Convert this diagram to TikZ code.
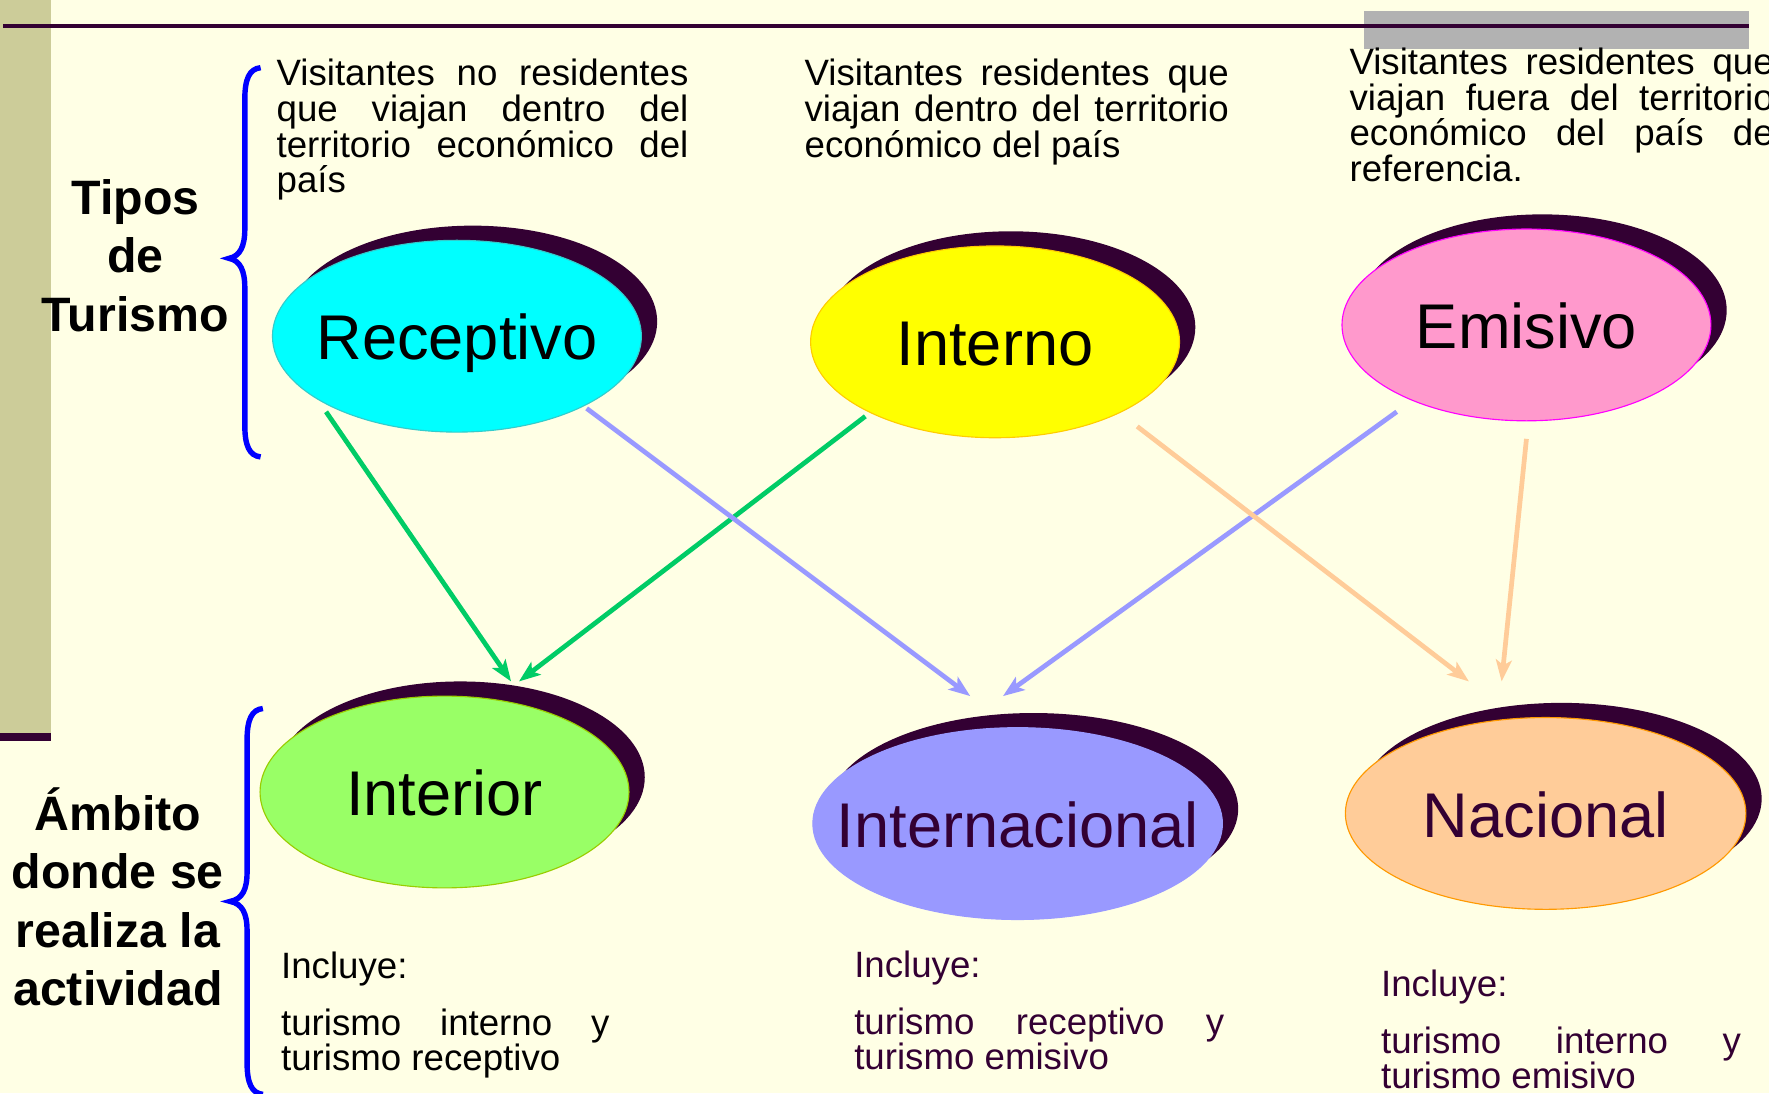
\documentclass[tikz,border=0pt]{standalone}
\usepackage{fontspec}
\setmainfont{Liberation Sans}
\usetikzlibrary{shapes.geometric,arrows.meta,shadows}
\definecolor{bgc}{RGB}{255,255,229}
\definecolor{khaki}{RGB}{204,204,153}
\definecolor{dpur}{RGB}{51,0,51}
\definecolor{greyc}{RGB}{178,178,178}
\definecolor{cyanF}{RGB}{0,255,255}
\definecolor{cyanB}{RGB}{51,204,204}
\definecolor{yelF}{RGB}{255,255,0}
\definecolor{yelB}{RGB}{255,204,0}
\definecolor{pinkF}{RGB}{255,153,204}
\definecolor{pinkB}{RGB}{255,0,255}
\definecolor{grnF}{RGB}{153,255,102}
\definecolor{grnB}{RGB}{153,204,0}
\definecolor{bluF}{RGB}{153,153,255}
\definecolor{pchF}{RGB}{255,204,153}
\definecolor{pchB}{RGB}{255,153,0}
\definecolor{arrG}{RGB}{0,204,102}
\definecolor{braceB}{RGB}{0,0,255}
\newcommand\ovtxt[1]{\makebox[0pt]{\smash{\raisebox{-21pt}{#1}}}}
\newcommand\jline[2]{\makebox[#1][s]{#2}}
\newcommand\tightls{\lineskiplimit=-1000pt\relax}
\begin{document}
\begin{tikzpicture}[x=1pt,y=-1pt,
  oval/.style={ellipse, inner sep=0pt, line width=1pt, minimum width=327pt, minimum height=170pt,
    font=\fontsize{56}{60}\selectfont,
    drop shadow={shadow xshift=14pt,shadow yshift=13pt,fill=dpur,opacity=1}},
  arr/.style={line width=4.2pt, -{Stealth[length=19pt,width=14pt,inset=4.5pt]}},
  desc/.style={anchor=north west, inner sep=0pt, align=left, font=\fontsize{32.5}{31.5}\selectfont\tightls},
  incl/.style={anchor=north west, inner sep=0pt, align=left, font=\fontsize{32.5}{31}\selectfont\tightls},
  lab/.style={anchor=north, inner sep=0pt, align=center, font=\fontsize{42.8}{51.6}\selectfont\bfseries\tightls},
  brace/.style={draw=braceB, line width=4.8pt}
]
\useasboundingbox (0,0) rectangle (1568,969);
\fill[bgc] (0,0) rectangle (1568,969);
\fill[khaki] (0,0) rectangle (45,650);
\fill[dpur] (0,650) rectangle (45,657);
\fill[greyc] (1209,10) rectangle (1550,43);
\draw[dpur, line width=3.5pt] (3,23) -- (1550,23);

% braces
\draw[brace] (231,60) .. controls (221,61) and (217,70) .. (217,88) -- (217,203)
  .. controls (217,218) and (213,227) .. (203,229) .. controls (213,231) and (217,240) .. (217,255)
  -- (217,377) .. controls (217,395) and (221,404) .. (231,405);
\draw[brace] (233,628) .. controls (223,629) and (219,638) .. (219,656) -- (219,773)
  .. controls (219,788) and (215,797) .. (204,799) .. controls (215,801) and (219,810) .. (219,825)
  -- (219,942) .. controls (219,960) and (223,969) .. (233,970);

% left labels
\node[lab] (tipos) at (120,150) {\rule{0pt}{40pt}Tipos\\de\\Turismo};
\node[lab] (ambito) at (104.5,696) {\rule{0pt}{40pt}Ámbito\\donde se\\realiza la\\actividad};

% descriptions
\node[desc] (d1) at (245,51) {\rule{0pt}{25pt}\jline{365pt}{Visitantes no residentes}\\\jline{365pt}{que viajan dentro del}\\\jline{365pt}{territorio económico del}\\país};
\node[desc] (d2) at (713,51) {\rule{0pt}{25pt}\jline{376pt}{Visitantes residentes que}\\\jline{376pt}{viajan dentro del territorio}\\económico del país};
\node[desc] (d3) at (1196,41) {\rule{0pt}{25pt}\jline{376pt}{Visitantes residentes que}\\\jline{376pt}{viajan fuera del territorio}\\\jline{376pt}{económico del país de}\\referencia.};

% ovals
\node[oval, fill=cyanF, draw=cyanB] (rec) at (405,298) {\ovtxt{Receptivo}};
\node[oval, fill=yelF, draw=yelB] (inn) at (882,303) {\ovtxt{Interno}};
\node[oval, fill=pinkF, draw=pinkB] (emi) at (1353,288) {\ovtxt{Emisivo}};
\node[oval, fill=grnF, draw=grnB] (inr) at (394,702) {\ovtxt{Interior}};
\node[oval, fill=bluF, draw=bluF, minimum width=363pt, text=dpur] (itl) at (902,730) {\ovtxt{Internacional}};
\node[oval, fill=pchF, draw=pchB, minimum width=355pt, text=dpur] (nac) at (1370,721) {\ovtxt{Nacional}};

% connector end points
\coordinate (g1s) at (289,365); \coordinate (g1e) at (453,604);
\coordinate (g2s) at (767,369); \coordinate (g2e) at (460,604);
\coordinate (b1s) at (520,362); \coordinate (b1e) at (860,617);
\coordinate (b2s) at (1238,365); \coordinate (b2e) at (889,617);
\coordinate (p1s) at (1008,378); \coordinate (p1e) at (1302,604);
\coordinate (p2s) at (1353,389); \coordinate (p2e) at (1331,604);
\draw[arr, arrG] (g1s) -- (g1e);
\draw[arr, arrG] (g2s) -- (g2e);
\draw[arr, bluF] (b1s) -- (b1e);
\draw[arr, bluF] (b2s) -- (b2e);
\draw[arr, pchF] (p1s) -- (p1e);
\draw[arr, pchF] (p2s) -- (p2e);

% bottom texts
\node[incl] (i1) at (249,842) {\rule{0pt}{25pt}Incluye:\\[20pt]\jline{291pt}{turismo interno y}\\turismo receptivo};
\node[incl, text=dpur] (i2) at (757,841) {\rule{0pt}{25pt}Incluye:\\[20pt]\jline{328pt}{turismo receptivo y}\\turismo emisivo};
\node[incl, text=dpur] (i3) at (1224,858) {\rule{0pt}{25pt}Incluye:\\[20pt]\jline{319pt}{turismo interno y}\\turismo emisivo};
\end{tikzpicture}
\end{document}
